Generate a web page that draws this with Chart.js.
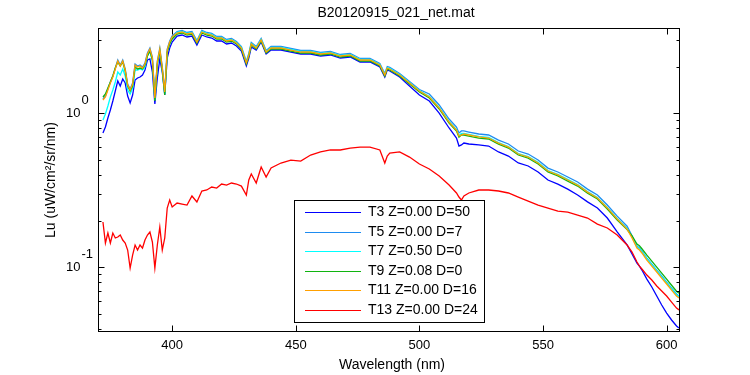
<!DOCTYPE html>
<html>
<head>
<meta charset="utf-8">
<style>
  html, body { margin: 0; padding: 0; background: #fff; }
</style>
<script src="https://cdn.jsdelivr.net/npm/chart.js@4.4.0/dist/chart.umd.min.js"></script>
</head>
<body>
<canvas id="c" width="750" height="375"></canvas>
<script>
// ─── data ───────────────────────────────────────────────────────────────────
const TITLE = 'B20120915_021_net.mat';
const X_LABEL = 'Wavelength (nm)';
const Y_LABEL = 'Lu (uW/cm²/sr/nm)';

const WL = [372,373,374,375,376,377,378,379,380,381,382,383,384,385,386,387,388,389,390,391,392,393,394,395,396,397,398,399,400,
  402,404,406,408,410,412,414,416,418,420,422,424,426,428,430,431,432,434,436,438,440,
  444,448,452,456,460,464,468,472,476,480,484,486,487,488,
  492,496,500,504,508,512,515,516,517,518,520,
  524,528,532,536,540,544,548,552,556,560,564,568,572,576,580,584,
  586,588,589,590,592,594,596,598,600,602,604,605];

const T3 = [0.745,0.815,0.932,1.050,1.202,1.396,1.621,1.504,1.670,1.573,1.295,1.166,1.315,1.645,1.695,1.721,1.773,1.911,2.219,2.253,1.854,1.149,1.695,2.253,1.854,1.315,2.286,2.655,2.904,
  3.177,3.224,3.130,3.177,2.777,3.224,3.130,3.083,2.948,2.948,2.818,2.861,2.735,2.538,2.029,2.286,2.695,2.576,2.904,2.427,2.576,
  2.576,2.500,2.427,2.427,2.355,2.391,2.286,2.321,2.153,2.153,1.998,1.721,1.911,1.882,
  1.721,1.504,1.315,1.202,1.004,0.803,0.691,0.613,0.623,0.641,0.632,
  0.623,0.613,0.561,0.528,0.476,0.455,0.416,0.369,0.347,0.322,0.295,0.266,0.243,0.209,0.170,0.140,
  0.122,0.1066,0.1019,0.0960,0.0839,0.0745,0.0651,0.0569,0.0505,0.0455,0.0416,0.0403];

const T5 = [1.238,1.295,1.438,1.597,1.747,1.969,2.219,2.059,2.219,1.940,1.550,1.438,1.573,2.090,2.028,2.059,1.998,2.121,2.463,2.654,2.320,1.276,2.185,2.654,1.998,1.396,2.615,2.948,3.177,
  3.398,3.451,3.348,3.398,2.971,3.451,3.348,3.298,3.154,3.154,3.016,3.061,2.927,2.716,2.171,2.446,2.883,2.716,3.061,2.558,2.716,
  2.716,2.635,2.558,2.558,2.483,2.521,2.409,2.446,2.270,2.270,2.106,1.814,2.013,1.985,
  1.814,1.609,1.428,1.335,1.133,0.918,0.815,0.745,0.768,0.768,0.756,
  0.734,0.723,0.670,0.632,0.569,0.544,0.498,0.441,0.416,0.386,0.358,0.322,0.295,0.254,0.215,0.185,
  0.160,0.1374,0.1334,0.1276,0.1148,0.1050,0.0960,0.0878,0.0802,0.0733,0.0671,0.0651];

const T7 = [0.905,0.990,1.115,1.276,1.417,1.597,1.854,1.773,1.940,1.747,1.417,1.335,1.460,1.911,1.911,1.940,1.911,1.998,2.355,2.538,2.186,1.220,2.059,2.538,1.911,1.335,2.500,2.818,3.083,
  3.349,3.400,3.299,3.349,2.927,3.400,3.299,3.250,3.108,3.108,2.972,3.016,2.884,2.676,2.139,2.410,2.841,2.676,3.016,2.520,2.676,
  2.676,2.597,2.520,2.520,2.446,2.484,2.374,2.410,2.237,2.237,2.075,1.787,1.984,1.956,
  1.787,1.586,1.407,1.286,1.092,0.885,0.785,0.718,0.740,0.740,0.729,
  0.708,0.697,0.646,0.609,0.548,0.524,0.480,0.425,0.401,0.372,0.345,0.310,0.284,0.245,0.208,0.179,
  0.158,0.1361,0.1321,0.1264,0.1137,0.1039,0.0951,0.0869,0.0795,0.0726,0.0664,0.0645];

const T9 = [1.276,1.335,1.460,1.597,1.747,1.968,2.153,2.029,2.153,1.882,1.504,1.396,1.504,1.998,1.940,1.968,1.940,2.059,2.355,2.538,2.219,1.202,2.090,2.538,1.911,1.315,2.500,2.818,3.037,
  3.272,3.322,3.224,3.272,2.860,3.322,3.224,3.176,3.037,3.037,2.904,2.947,2.818,2.615,2.090,2.355,2.776,2.615,2.947,2.463,2.615,
  2.615,2.537,2.463,2.463,2.391,2.427,2.320,2.355,2.186,2.186,2.028,1.746,1.938,1.911,
  1.746,1.549,1.375,1.257,1.067,0.865,0.767,0.701,0.723,0.723,0.712,
  0.691,0.681,0.631,0.595,0.536,0.512,0.469,0.416,0.392,0.363,0.337,0.303,0.278,0.239,0.203,0.176,
  0.160,0.1414,0.1380,0.1320,0.1199,0.1096,0.1002,0.0916,0.0838,0.0765,0.0700,0.0680];

const T11 = [1.220,1.276,1.417,1.573,1.721,1.940,2.186,2.029,2.186,1.911,1.527,1.417,1.550,2.059,1.998,2.029,1.968,2.090,2.427,2.615,2.286,1.257,2.153,2.615,1.968,1.375,2.576,2.904,3.130,
  3.322,3.373,3.273,3.322,2.904,3.373,3.273,3.224,3.083,3.083,2.948,2.992,2.861,2.655,2.122,2.391,2.818,2.655,2.992,2.500,2.655,
  2.655,2.576,2.500,2.500,2.427,2.464,2.355,2.391,2.219,2.219,2.059,1.773,1.968,1.940,
  1.773,1.573,1.396,1.276,1.083,0.878,0.779,0.712,0.722,0.734,0.723,
  0.702,0.691,0.641,0.604,0.544,0.520,0.476,0.422,0.398,0.369,0.342,0.308,0.282,0.243,0.206,0.177,
  0.155,0.1334,0.1295,0.1239,0.1115,0.1019,0.0932,0.0852,0.0779,0.0712,0.0651,0.0632];

const T13 = [0.197,0.1438,0.167,0.1438,0.167,0.155,0.1573,0.162,0.1504,0.1438,0.1295,0.0990,0.1202,0.1396,0.1295,0.1396,0.1334,0.1504,0.162,0.1695,0.146,0.0990,0.1396,0.1827,0.1295,0.155,0.2427,0.2735,0.2463,
  0.2616,0.2576,0.2538,0.2904,0.2655,0.313,0.3177,0.332,0.327,0.3475,0.342,0.3527,0.3475,0.337,0.2947,0.369,0.4035,0.3527,0.448,0.3858,0.4413,
  0.4756,0.4973,0.490,0.536,0.561,0.578,0.578,0.595,0.604,0.604,0.578,0.4756,0.528,0.5524,
  0.561,0.520,0.4686,0.4347,0.3917,0.342,0.3038,0.286,0.2735,0.2904,0.3038,
  0.3177,0.3177,0.313,0.3038,0.286,0.2694,0.2538,0.2427,0.232,0.2286,0.2186,0.209,0.191,0.180,0.162,0.1396,
  0.1257,0.1082,0.1019,0.0975,0.0891,0.0827,0.0756,0.0702,0.0651,0.0595,0.0544,0.0529];

const SERIES = [
  { label: 'T3 Z=0.00 D=50',  data: T3,  color: '#0000ff' },
  { label: 'T5 Z=0.00 D=7',   data: T5,  color: '#1e8cf0' },
  { label: 'T7 Z=0.50 D=0',   data: T7,  color: '#00ffff' },
  { label: 'T9 Z=0.08 D=0',   data: T9,  color: '#10b410' },
  { label: 'T11 Z=0.00 D=16', data: T11, color: '#ffa000' },
  { label: 'T13 Z=0.00 D=24', data: T13, color: '#ff0000' },
];

const X_TICKS = [400, 450, 500, 550, 600];
const Y_TICKS = [0.1, 1];
const Y_EXP = ['-1', '0'];
const Y_MINOR = [0.04,0.05,0.06,0.07,0.08,0.09,0.2,0.3,0.4,0.5,0.6,0.7,0.8,0.9,2,3];

const FONT = '"Liberation Sans", Arial, sans-serif';

// ── MATLAB-style box, inward ticks, labels and legend ───────────────────────
const matlabAxes = {
  id: 'matlabAxes',
  afterDatasetsDraw(chart) {
    const { ctx, chartArea: a, scales: { x, y } } = chart;
    const L = Math.round(a.left) + 0.5, R = Math.round(a.right) + 0.5;
    const T = Math.round(a.top) + 0.5, B = Math.round(a.bottom) + 0.5;
    ctx.save();
    ctx.strokeStyle = '#000';
    ctx.lineWidth = 1;
    ctx.strokeRect(L, T, R - L, B - T);

    ctx.beginPath();
    X_TICKS.forEach(v => {
      const px = Math.round(x.getPixelForValue(v)) + 0.5;
      ctx.moveTo(px, B); ctx.lineTo(px, B - 6);
      ctx.moveTo(px, T); ctx.lineTo(px, T + 6);
    });
    Y_TICKS.forEach(v => {
      const py = Math.round(y.getPixelForValue(v)) + 0.5;
      ctx.moveTo(L, py); ctx.lineTo(L + 6, py);
      ctx.moveTo(R, py); ctx.lineTo(R - 6, py);
    });
    Y_MINOR.forEach(v => {
      const py = Math.round(y.getPixelForValue(v)) + 0.5;
      ctx.moveTo(L, py); ctx.lineTo(L + 3, py);
      ctx.moveTo(R, py); ctx.lineTo(R - 3, py);
    });
    ctx.stroke();

    ctx.fillStyle = '#000';
    ctx.font = '13px ' + FONT;
    ctx.textBaseline = 'middle';
    ctx.textAlign = 'center';
    X_TICKS.forEach(v => ctx.fillText(String(v), x.getPixelForValue(v), B + 14));

    Y_TICKS.forEach((v, i) => {
      const py = y.getPixelForValue(v);
      ctx.textAlign = 'right';
      ctx.fillText('10', L - 18, py);
      ctx.textAlign = 'left';
      ctx.fillText(Y_EXP[i], L - 17, py - 13);
    });

    ctx.font = '14px ' + FONT;
    ctx.textAlign = 'center';
    ctx.fillText(TITLE, 396, 13);
    ctx.fillText(X_LABEL, 392, 365);
    ctx.save();
    ctx.translate(51, 180);
    ctx.rotate(-Math.PI / 2);
    ctx.fillText(Y_LABEL, 0, 0);
    ctx.restore();

    // legend box
    const bx = 294.5, by = 200.5, bw = 190, bh = 122;
    ctx.fillStyle = '#fff';
    ctx.fillRect(bx, by, bw, bh);
    ctx.strokeRect(bx, by, bw, bh);
    ctx.textAlign = 'left';
    chart.data.datasets.forEach((ds, i) => {
      const ry = Math.round(212 + i * 19.6) + 0.5;
      ctx.strokeStyle = ds.borderColor;
      ctx.beginPath();
      ctx.moveTo(305, ry); ctx.lineTo(361, ry);
      ctx.stroke();
      ctx.fillStyle = '#000';
      ctx.fillText(ds.label, 368, ry);
    });
    ctx.restore();
  }
};

new Chart(document.getElementById('c').getContext('2d'), {
  type: 'line',
  data: {
    datasets: SERIES.map((s, i) => ({
      label: s.label,
      data: WL.map((w, j) => ({ x: w, y: s.data[j] })),
      borderColor: s.color,
      borderWidth: 1.3,
      pointRadius: 0,
      tension: 0,
      fill: false,
      order: SERIES.length - i,
    })),
  },
  options: {
    responsive: false, animation: false,
    layout: { padding: { left: 98, right: 71, top: 28, bottom: 44 } },
    plugins: { legend: { display: false }, tooltip: { enabled: false }, title: { display: false } },
    scales: {
      x: { type: 'linear', min: 370, max: 605, display: false },
      y: { type: 'logarithmic', min: 0.0386, max: 3.58, display: false },
    },
  },
  plugins: [matlabAxes],
});
</script>
</body>
</html>
